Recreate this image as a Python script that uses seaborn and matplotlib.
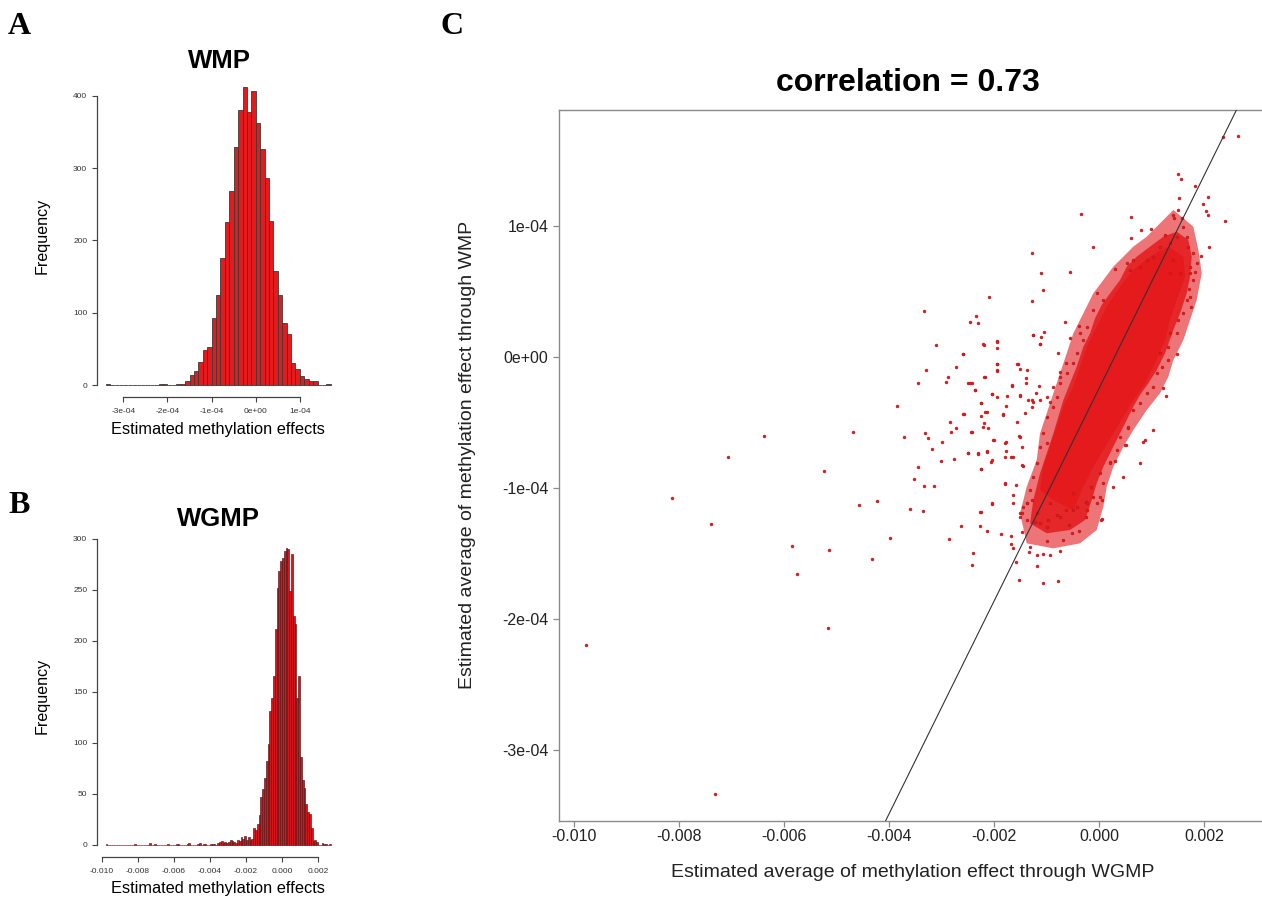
import numpy as np
import pandas as pd
import matplotlib
matplotlib.use("Agg")
import matplotlib.pyplot as plt
import seaborn as sns

# ---- panel A: WMP histogram (bin width 1e-05, left edge of first bin -3.4e-04)
wmp_bin_start = -34
wmp_counts = ([1] + [0] * 11 + [1, 1, 0, 0] +
              [2, 2, 5, 14, 20, 32, 49, 53, 93, 125, 176, 226, 268, 329, 380,
               412, 378, 407, 362, 327, 287, 227, 158, 124, 86, 70, 31, 22, 13,
               9, 5, 5, 0, 0, 2])

# ---- panel B: WGMP histogram (bin width 1e-04, left edge of first bin -0.0098)
wgmp_bin_start = -98
wgmp_counts = ([1] + [0] * 15 + [1] + [0] * 7 + [2] + [0] * 2 + [1] + [0] * 6 +
               [1] + [0] * 4 + [1, 1] + [0] * 4 + [1, 2] + [0] * 4 +
               [1, 2, 0, 1, 1, 0, 0, 1, 1, 1, 0] +
               [2, 3, 4, 2, 3, 2, 3, 5, 4, 3, 2, 5, 4, 7, 6, 8, 5, 7, 5, 6] +
               [16, 14, 20, 29, 47, 55, 65, 82, 99, 131, 144, 165, 211, 252, 268, 278] +
               [281, 288, 291, 290, 249, 285, 224, 216, 144, 165, 86, 63, 56, 40, 32,
                30, 16, 4, 5, 3, 0, 0, 2, 1, 1, 0, 1])

# ---- panel C: scatter (x in 1e-03, y in 1e-05)
wgmp_avg = [
    -6.39, -7.07, -4.69, -5.24, -8.14, -4.57, -7.39, -5.84, -5.14, -5.76, -5.17, -9.78, -7.31,
    -3.33, -3.85, -3.71, -4.23, -3.60, -3.36, -3.52, -3.44, -3.34, -3.14, -3.30, -3.45, -3.11,
    -3.31, -3.25, -3.18, -3.01, -3.00, -2.84, -2.72, -2.82, -2.76, -2.73, -2.88, -2.92, -2.60,
    -2.58, -2.46, -2.34, -2.31, -2.20, -2.18, -2.49, -2.42, -2.37, -2.25, -2.25, -2.17, -2.19,
    -2.12, -2.44, -2.49, -2.30, -2.14, -2.06, -2.25, -2.01, -2.04, -2.25, -2.09, -1.95, -1.94,
    -1.94, -1.94, -2.04, -1.94, -1.77, -1.82, -1.78, -1.78, -1.80, -1.65, -1.55, -1.50, -1.50,
    -1.56, -1.52, -1.68, -1.45, -1.58, -1.63, -1.39, -1.38, -1.41, -1.27, -1.10, -1.06, -1.28,
    -1.26, -1.11, -1.04, -1.12, -1.14, -1.21, -1.36, -1.25, -0.55, -0.35, -0.11, -0.65, -0.38,
    -0.55, -0.78, -0.63, -0.74, 0.60, 0.79, 0.99, 0.31, 0.60, 1.51, 1.56, 1.83, 2.08, 1.98,
    2.04, 2.07, 2.39, 2.10, 1.94, 2.37, 2.64, 1.75, 1.49, 1.32, 1.21, 1.28, 1.72, 1.73, 1.53,
    1.50, 1.43, 0.84, 0.51, 0.56, 0.30, 0.20, 0.05, 0.05,
    -3.99, -4.32, -2.85, -2.62, -2.41, -2.42, -2.27, -2.14, -1.87, -1.68, -1.68, -1.63, -1.58,
    -1.52, -1.06, -0.79, -1.18, -1.33, -1.19, -1.06, -0.93, -0.74, -0.68, -0.52, -0.39, -0.25,
    0.03, -0.25, -0.57, -1.00, -1.31, -1.47, -1.38, -1.50, -1.44, -1.12, -1.00, -0.81, -0.62,
    -0.42, -1.19, -1.28, -0.93, -0.49, -0.16,
    1.416, 1.575, 1.606, 1.479, 1.257, 1.352, 1.162, 1.670, 1.701, 1.796, 1.861, 1.829, 1.034,
    0.909, 0.781, 0.653, 0.528, 0.590, 1.416, 1.733, 1.543, 1.796, 1.352, 1.733, 1.670, 1.606,
    1.511, 1.479, 1.352, 1.320, 1.162, 1.194, 1.099, 1.034, 0.909, 0.781, 0.653, 0.558, 0.400,
    0.337, 0.210, 0.019, 0.082, -0.109, -0.234, -0.044, -0.044, 0.082, -0.109, -0.234, -0.362,
    -0.299, -0.425, -0.490, -0.615, -0.743, -0.806, -0.870, -0.996, -1.061, -1.124, -1.187,
    -1.251, -1.314, -1.377, -1.472, -0.996, -0.870, -0.743,
    -1.263, -1.124, -2.204, -1.937, -2.596, -1.937, -1.937, -2.457, -2.185, -2.362, -1.556,
    -1.390, -1.663, -2.044, -1.758, -1.505, -2.253, -1.282, -1.282, -1.124, -0.933, -2.140,
    -2.596, -1.823, -2.204, -2.425, -2.013, -1.790, -1.505, -1.472, -0.996, -2.490, -2.300,
    -2.140, -2.044, -1.790, -1.644, -1.472, -2.253, -1.790, -2.044, -2.267, -1.632, -1.377,
    -1.505, -1.219, -0.966, -0.743, -0.490, -0.234, 0.019, 0.272, 0.463, 0.781, 0.876,
    1.034, 0.495,
]
wmp_avg = [
    -6.03, -7.66, -5.77, -8.73, -10.76, -11.30, -12.80, -14.45, -14.73, -16.60, -20.70, -22.00, -33.40,
    3.49, -3.74, -6.11, -10.99, -11.60, -11.75, -9.34, -8.44, -9.87, -9.85, -1.02, -2.03, 0.89,
    -5.85, -6.23, -7.05, -7.96, -6.49, -4.96, -5.47, -5.72, -7.81, -0.76, -1.53, -1.96, 0.18,
    -4.37, 2.67, 3.13, 2.60, 0.89, -1.53, -1.98, -1.98, -2.54, -3.56, -4.53, -4.20, -5.04,
    -5.47, -5.77, -7.37, -7.43, -7.20, -8.02, -8.60, -6.36, -11.24, -11.83, 4.53, 1.22, 0.64,
    -0.58, -1.02, -2.87, -3.05, -3.76, -4.37, -6.53, -7.18, -9.66, -2.21, -0.58, -0.96, -2.98,
    -4.96, -6.03, -7.68, -8.32, -9.79, -10.56, -1.65, -1.02, -4.32, 7.89, 6.41, 5.09, 4.27,
    1.66, 1.48, 1.86, 0.95, -2.21, -2.79, -3.31, -3.44, 6.44, 10.87, 8.40, 2.63, 2.37,
    1.40, 0.31, -0.50, -1.15, 10.64, 9.67, 9.75, 6.69, 9.08, 13.95, 13.56, 13.05, 12.17, 11.63,
    11.12, 10.82, 10.36, 8.40, 7.71, 16.79, 16.85, 3.82, 0.18, -0.25, -2.41, -2.98, 5.17, 6.37, 12.14,
    11.20, 10.56, -6.49, -6.74, -5.47, -7.94, -8.06, -10.94, -12.41,
    -13.86, -15.47, -13.92, -12.90, -15.01, -15.93, -12.90, -13.28, -13.54, -13.69, -14.30, -14.63, -15.70,
    -17.02, -17.30, -17.15, -15.98, -14.88, -15.16, -15.06, -15.11, -14.86, -14.00, -13.43, -13.28, -12.26,
    -12.47, -11.12, -12.85, -14.04, -14.50, -13.36, -12.47, -11.95, -11.45, -12.72, -12.98, -12.08, -11.70,
    -11.45, -11.95, -10.94, -11.19, -10.43, -9.92,
    10.82, 10.56, 9.92, 9.16, 9.29, 8.66, 8.40, 9.16, 8.40, 7.89, 7.13, 6.49, 7.63,
    7.38, 6.87, 7.38, 7.13, 6.62, 7.38, 6.87, 6.37, 5.85, 6.37, 4.58, 4.33, 3.31,
    2.80, 1.78, 1.78, 0.76, 0.26, -0.76, -1.27, -2.29, -2.79, -3.56, -4.07, -5.34, -6.11,
    -7.12, -8.14, -8.90, -9.66, -10.69, -11.70, -11.19, 4.84, 4.33, 3.56, 2.29, 1.78,
    1.27, 0.26, -0.50, -1.27, -2.03, -3.05, -3.82, -4.58, -5.85, -6.87, -8.14,
    -9.16, -10.18, -11.19, -11.95, -3.05, -2.29, -1.53,
    1.66, 0.97, 0.97, 1.15, 0.20, -0.56, -1.09, -1.98, -1.53, -2.54, -0.56,
    -1.98, -2.16, -2.85, -3.00, -2.92, -3.56, -3.31, -3.86, -3.31, -3.43, -4.20,
    -4.37, -4.45, -5.34, -5.73, -6.36, -6.61, -6.11, -6.92, -6.61, -7.33, -7.33,
    -7.25, -7.89, -7.63, -7.68, -8.27, -8.60, -9.72, -11.19, -11.83, -11.19, -11.19,
    -12.21, -12.60, -12.47, -12.21, -11.70, -11.19, -10.69, -9.92, -9.16, -8.14, -6.36,
    -5.60, -6.74,
]

# outline of the loosely crowded fringe of the cloud, same units
halo_x = [1.416, 1.796, 1.892, 1.956, 1.861, 1.733, 1.606, 1.416, 1.320, 1.162, 0.909,
          0.653, 0.463, 0.272, 0.147, 0.082, -0.044, -0.362, -0.870, -1.377, -1.505,
          -1.377, -1.187, -1.124, -0.996, -0.870, -0.743, -0.615, -0.490, -0.299, -0.109,
          0.082, 0.272, 0.463, 0.653, 0.909, 1.162]
halo_y = [11.20, 9.92, 8.15, 6.37, 4.33, 2.80, 1.27, -0.25, -1.53, -2.79, -4.07,
          -5.60, -6.87, -8.40, -9.92, -11.45, -13.23, -14.25, -14.63, -14.25, -11.95,
          -9.92, -7.89, -5.85, -4.32, -2.79, -1.27, 0.26, 1.78, 3.31, 4.84,
          5.85, 6.87, 7.63, 8.40, 9.16, 10.18]

# outer outline of the crowded band of the cloud, same units
band_x = [1.479, 1.701, 1.765, 1.733, 1.670, 1.543, 1.416, 1.257, 1.099, 0.940, 0.781,
          0.653, 0.528, 0.400, 0.210, 0.082, -0.044, -0.139, -0.267, -0.552, -0.996,
          -1.314, -1.251, -1.124, -0.996, -0.870, -0.775, -0.680, -0.552, -0.425, -0.299,
          -0.171, -0.076, 0.051, 0.210, 0.400, 0.528, 0.718, 0.971, 1.225]
band_y = [9.54, 8.91, 7.63, 6.11, 4.84, 3.31, 2.04, 0.26, -1.02, -2.03, -2.92,
          -3.82, -4.83, -5.85, -7.37, -8.40, -9.66, -10.94, -12.47, -13.23, -13.48,
          -12.72, -10.94, -8.90, -7.37, -5.85, -4.58, -3.31, -2.03, -0.76, 0.76,
          1.78, 2.93, 3.95, 4.84, 5.85, 6.87, 7.63, 8.40, 9.16]

# outline of the solid (overplotted) core of the cloud, same units
core_x = [1.320, 1.606, 1.638, 1.479, 1.352, 1.257, 1.067, 0.876, 0.653, 0.463, 0.272, 0.082,
          -0.109, -0.299, -0.490, -0.870, -1.124, -1.061, -0.933, -0.806, -0.680, -0.490,
          -0.362, -0.234, -0.044, 0.147, 0.400, 0.653, 0.971]
core_y = [8.40, 7.63, 6.11, 4.33, 2.80, 1.27, -0.50, -2.03, -3.31, -4.58, -5.85, -7.12,
          -8.40, -9.92, -11.70, -10.94, -10.18, -8.40, -6.87, -5.34, -3.82, -2.29,
          -0.76, 0.76, 2.29, 3.82, 5.34, 6.62, 7.63]

# fitted line (y = a + b x, units 1e-05 and 1e-03)
fit_intercept = -2.42
fit_slope = 8.12

RED = "#e41a1c"
W, H = 1262, 897

plt.rcParams["font.family"] = ["Liberation Sans", "DejaVu Sans"]

fig = plt.figure(figsize=(W / 100, H / 100), dpi=100)


def box(l, t, r, b):
    return [l / W, 1 - b / H, (r - l) / W, (b - t) / H]


def hist_panel(ax, start, width, counts, xticks, xlabels, yticks, face, edge, lw):
    edges = (start + np.arange(len(counts) + 1)) * width
    df = pd.DataFrame({"value": (edges[:-1] + edges[1:]) / 2, "n": counts})
    sns.histplot(data=df, x="value", weights="n", bins=list(edges), ax=ax, color=face,
                 edgecolor=edge, linewidth=lw, alpha=1)
    lo, hi = edges[0], edges[-1]
    pad = 0.04 * (hi - lo)
    ax.set_xlim(lo - pad, hi + pad)
    top = max(counts)
    ax.set_ylim(-0.04 * top, 1.04 * top)
    for s in ["top", "right"]:
        ax.spines[s].set_visible(False)
    ax.spines["left"].set_bounds(yticks[0], yticks[-1])
    ax.spines["bottom"].set_bounds(xticks[0], xticks[-1])
    for s in ["left", "bottom"]:
        ax.spines[s].set_color("#444444")
        ax.spines[s].set_linewidth(0.9)
    ax.set_xticks(xticks)
    ax.set_xticklabels(xlabels)
    ax.set_yticks(yticks)
    ax.set_yticklabels([str(v) for v in yticks])
    ax.tick_params(axis="both", labelsize=6, colors="#444444", labelcolor="#333333",
                   length=3.6, width=0.8)
    ax.tick_params(axis="x", pad=4.5)
    ax.tick_params(axis="y", pad=3.2)
    ax.set_xlabel("")
    ax.set_ylabel("")
    ax.set_facecolor("white")


axA = fig.add_axes(box(96.7, 75.2, 339.8, 397))
hist_panel(axA, wmp_bin_start, 1e-5, wmp_counts,
           [-3e-4, -2e-4, -1e-4, 0, 1e-4],
           ["-3e-04", "-2e-04", "-1e-04", "0e+00", "1e-04"],
           [0, 100, 200, 300, 400], RED, "#3a3a3a", 0.6)

axB = fig.add_axes(box(96.7, 536, 339.6, 856.5))
hist_panel(axB, wgmp_bin_start, 1e-4, wgmp_counts,
           [-0.010, -0.008, -0.006, -0.004, -0.002, 0.0, 0.002],
           ["-0.010", "-0.008", "-0.006", "-0.004", "-0.002", "0.000", "0.002"],
           [0, 50, 100, 150, 200, 250, 300], "#d4151b", "#5a1414", 0.45)

# ---- panel C
axC = fig.add_axes(box(559.3, 109.6, 1263.9, 820.6))
xs = np.array(wgmp_avg) * 1e-3
ys = np.array(wmp_avg) * 1e-5
axC.fill(np.array(halo_x) * 1e-3, np.array(halo_y) * 1e-5, color=RED, alpha=0.6,
         lw=0, zorder=1)
axC.fill(np.array(band_x) * 1e-3, np.array(band_y) * 1e-5, color=RED, alpha=0.85,
         lw=0, zorder=1)
axC.fill(np.array(core_x) * 1e-3, np.array(core_y) * 1e-5, color=RED, lw=0, zorder=1)
sns.scatterplot(x=xs, y=ys, ax=axC, s=4.5, color=RED, edgecolor="#b01015",
                linewidth=0.3, zorder=2)
axC.axline((0, fit_intercept * 1e-5), slope=fit_slope * 1e-2, color="#333333",
           lw=0.8, zorder=3)
axC.set_xlim(-0.01028, 0.00314)
axC.set_ylim(-35.41e-5, 18.86e-5)
axC.set_xticks([-0.010, -0.008, -0.006, -0.004, -0.002, 0.0, 0.002])
axC.set_xticklabels(["-0.010", "-0.008", "-0.006", "-0.004", "-0.002", "0.000", "0.002"])
axC.set_yticks([-3e-4, -2e-4, -1e-4, 0, 1e-4])
axC.set_yticklabels(["-3e-04", "-2e-04", "-1e-04", "0e+00", "1e-04"])
for s in axC.spines.values():
    s.set_color("#8a8a8a")
    s.set_linewidth(1.0)
axC.tick_params(axis="both", labelsize=11.5, colors="#8a8a8a", labelcolor="#222222",
                length=4.3, width=0.9)
axC.tick_params(axis="x", pad=1.5)
axC.tick_params(axis="y", pad=3.4)
axC.set_xlabel("")
axC.set_ylabel("")


# ---- texts
def ftext(x, y, s, **kw):
    fig.text(x / W, 1 - y / H, s, **kw)


for lab, x, y in [("A", 8, 34.3), ("B", 8, 513.3), ("C", 440, 34.5)]:
    ftext(x, y, lab, family="Liberation Serif", weight="bold", size=23,
          va="baseline", ha="left")

ftext(219, 68.3, "WMP", weight="bold", size=18.5, ha="center", va="baseline")
ftext(218, 525.7, "WGMP", weight="bold", size=18.5, ha="center", va="baseline")
ftext(41.7, 235.8, "Frequency", size=11.6, rotation=90, ha="center", va="center")
ftext(41.7, 695.7, "Frequency", size=11.6, rotation=90, ha="center", va="center")
ftext(218, 434.3, "Estimated methylation effects", size=11.8, ha="center", va="baseline")
ftext(217.5, 893.3, "Estimated methylation effects", size=11.8, ha="center", va="baseline")

ftext(907.5, 90.7, "correlation = 0.73", weight="bold", size=23, ha="center", va="baseline")
ftext(913, 876.7, "Estimated average of methylation effect through WGMP", size=14,
      ha="center", va="baseline", color="#222222")
ftext(468, 455, "Estimated average of methylation effect through WMP", size=14,
      rotation=90, ha="center", va="center", color="#222222")

fig.savefig("out.png", dpi=100, facecolor="white")
